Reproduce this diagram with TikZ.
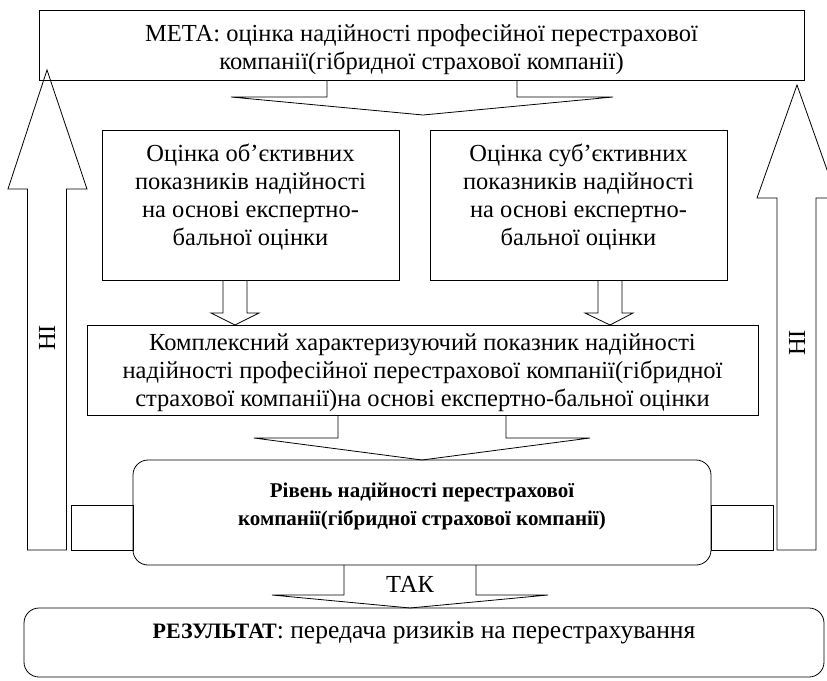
\documentclass[tikz,border=0pt]{standalone}
\usepackage{fontspec}
\setmainfont{Liberation Serif}
\usetikzlibrary{positioning}

\begin{document}
\begin{tikzpicture}[x=1pt,y=-1pt,
  line width=0.8pt,
  box/.style={draw,align=center,inner sep=0pt,font=\fontsize{24.5}{28}\selectfont},
  rbox/.style={box,rounded corners=15pt},
  lbl/.style={inner sep=0pt,font=\fontsize{24.5}{28}\selectfont},
  blk/.style={draw,line join=miter}
]
\clip (0,0) rectangle (827,680);
% boxes
\node[box,minimum width=765pt,minimum height=70pt] (goal) at (421.5,45) {\rule{0pt}{26pt}МЕТА: оцінка надійності професійної перестрахової\\компанії(гібридної страхової компанії)};
\node[box,minimum width=297pt,minimum height=150pt,text depth=20pt] (obj) at (250.5,205) {Оцінка об’єктивних\\показників надійності\\на основі експертно-\\бальної оцінки};
\node[box,minimum width=297pt,minimum height=150pt,text depth=20pt] (subj) at (578.5,205) {Оцінка суб’єктивних\\показників надійності\\на основі експертно-\\бальної оцінки};
\node[box,minimum width=671pt,minimum height=90pt,text depth=0pt] (compl) at (422.5,370) {Комплексний характеризуючий показник надійності\\надійності професійної перестрахової компанії(гібридної\\страхової компанії)на основі експертно-бальної оцінки};
\node[rbox,minimum width=578pt,minimum height=105pt,text depth=16pt,font=\fontsize{21}{28}\selectfont\bfseries] (level) at (422,512.5) {Рівень надійності перестрахової\\компанії(гібридної страхової компанії)};
\node[rbox,minimum width=800pt,minimum height=69pt,text depth=24pt,font=\fontsize{25.5}{28}\selectfont] (result) at (424,642.5) {\textbf{\fontsize{22}{28}\selectfont РЕЗУЛЬТАТ}: передача ризиків на перестрахування};
\node[box,minimum width=62pt,minimum height=45pt] (stubL) at (102,527.5) {};
\node[box,minimum width=62pt,minimum height=45pt] (stubR) at (742,527.5) {};
% labels
\node[lbl] (yes) at (410,584) {ТАК};
\node[lbl,rotate=90] (noL) at (47,338) {НІ};
\node[lbl,rotate=90] (noR) at (797,343) {НІ};
% block arrows
\draw[blk] (327,80) -- (327,97) -- (231,97) -- (423,115) -- (613,97) -- (517,97) -- (517,80);
\draw[blk] (223,280) -- (223,313) -- (211,313) -- (235,325) -- (259,313) -- (247,313) -- (247,280);
\draw[blk] (598,280) -- (598,313) -- (585,313) -- (610,325) -- (633,313) -- (622,313) -- (622,280);
\draw[blk] (338,415) -- (338,438) -- (254,438) -- (422,460) -- (590,438) -- (506,438) -- (506,415);
\draw[blk] (344,565) -- (344,595) -- (272,595) -- (410,608) -- (548,595) -- (476,595) -- (476,565);
\draw[blk] (27.5,550) -- (27.5,189) -- (8,189) -- (47,70) -- (87,189) -- (66.5,189) -- (66.5,550) -- cycle;
\draw[blk] (777,550) -- (777,198) -- (757,198) -- (797,85) -- (837,198) -- (816,198) -- (816,550) -- cycle;
\end{tikzpicture}
\end{document}
